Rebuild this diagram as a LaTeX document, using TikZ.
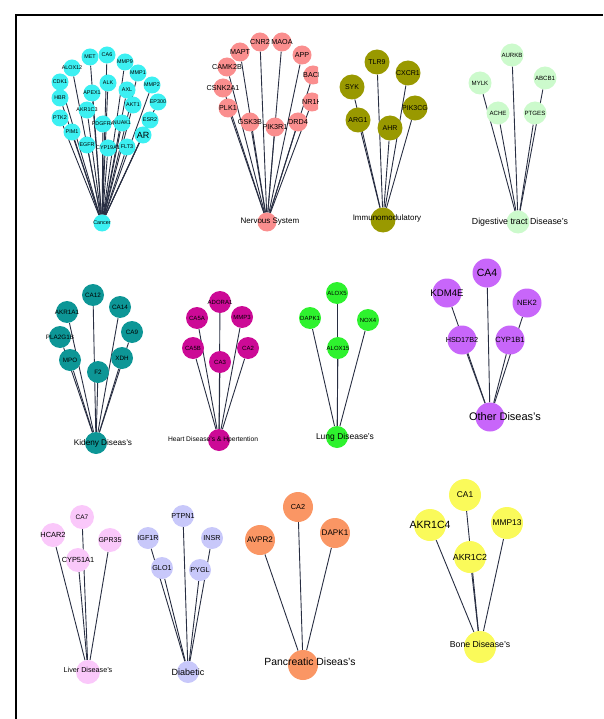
\documentclass[tikz,border=0pt]{standalone}
\usepackage{fontspec}
\setmainfont{Liberation Sans}
\usepackage{xcolor}
\usepackage{tikz}
\usetikzlibrary{backgrounds}
\definecolor{cancerc}{RGB}{60,240,242}
\definecolor{nervec}{RGB}{250,142,142}
\definecolor{immunc}{RGB}{153,153,0}
\definecolor{digestc}{RGB}{204,250,204}
\definecolor{kidneyc}{RGB}{13,150,150}
\definecolor{heartc}{RGB}{204,10,150}
\definecolor{lungc}{RGB}{46,242,46}
\definecolor{otherc}{RGB}{200,102,250}
\definecolor{liverc}{RGB}{250,200,250}
\definecolor{diabc}{RGB}{200,200,250}
\definecolor{pancc}{RGB}{250,150,100}
\definecolor{bonec}{RGB}{250,250,90}
\definecolor{linkc}{RGB}{40,46,66}
\newcommand{\fs}[1]{\fontsize{#1}{#1}\selectfont}

\begin{document}
\begin{tikzpicture}[x=1pt, y=-1pt,
  gene/.style={circle, inner sep=0pt, label={center:#1}}, gene/.default={},
  link/.style={draw=linkc, line width=0.9pt}]
\useasboundingbox (0,0) rectangle (603,719);
\draw[line width=1.5pt] (16,719) -- (16,15) -- (603,15);
%cancer
\begin{scope}[gene/.append style={fill=cancerc, minimum size=17}, every label/.append style={font=\fs{5.4}}]
\node[gene=MET] (met) at (90,57) {};
\node[gene=CA6] (ca6) at (107,55) {};
\node[gene=MMP9] (mmp9) at (125,62) {};
\node[gene=ALOX12] (alox12) at (72,68) {};
\node[gene=MMP1] (mmp1) at (138,73) {};
\node[gene=CDK1] (cdk1) at (60,82) {};
\node[gene=ALK] (alk) at (108,83) {};
\node[gene=AXL] (axl) at (127,90) {};
\node[gene=MMP2] (mmp2) at (152,85) {};
\node[gene=APEX1] (apex1) at (92,93) {};
\node[gene=HBR] (hbr) at (60,98) {};
\node[gene=EP300] (ep300) at (158,102) {};
\node[gene=AKT1] (akt1) at (133,105) {};
\node[gene=AKR1C3] (akr1c3) at (87,110) {};
\node[gene=PTK2] (ptk2) at (60,118) {};
\node[gene=ESR2] (esr2) at (150,120) {};
\node[gene=PDGFRA] (pdgfra) at (103,124) {};
\node[gene=NUAK1] (nuak1) at (122,123) {};
\node[gene={\fs{9}AR}] (ar) at (143,135) {};
\node[gene=PIM1] (pim1) at (72,132) {};
\node[gene=EGFR] (egfr) at (87,145) {};
\node[gene=FLT3] (flt3) at (127,147) {};
\node[gene=CYP19A1] (cyp19a1) at (108,148) {};
\node[gene=Cancer] (cancer) at (102,223) {};
\end{scope}
%nervous system
\begin{scope}[gene/.append style={fill=nervec, minimum size=19}, every label/.append style={font=\fs{7.2}}]
\node[gene=CNR2] (cnr2) at (260,42) {};
\node[gene=MAOA] (maoa) at (282,42) {};
\node[gene=MAPT] (mapt) at (240,52) {};
\node[gene=APP] (app) at (302,55) {};
\node[gene=CAMK2B] (camk2b) at (227,67) {};
\node[gene=CSNK2A1] (csnk2a1) at (223,88) {};
\node[gene=PLK1] (plk1) at (228,108) {};
\node[gene=GSK3B] (gsk3b) at (250,122) {};
\node[gene=PIK3R1] (pik3r1) at (275,127) {};
\node[gene=DRD4] (drd4) at (298,122) {};
\begin{scope}
\clip (290,30) rectangle (318,120);
\node[gene=BACE] (bace) at (313,75) {};
\node[gene=NR1H] (nr1h) at (312,102) {};
\end{scope}
\node[gene={\fs{8}\hspace*{6pt}Nervous System}] (nerve) at (267,222) {};
\end{scope}
%immunomodulatory
\begin{scope}[gene/.append style={fill=immunc, minimum size=25}, every label/.append style={font=\fs{7}}]
\node[gene=TLR9] (tlr9) at (377,62) {};
\node[gene=CXCR1] (cxcr1) at (408,73) {};
\node[gene=SYK] (syk) at (352,87) {};
\node[gene=PIK3CG] (pik3cg) at (415,108) {};
\node[gene=ARG1] (arg1) at (358,120) {};
\node[gene=AHR] (ahr) at (390,128) {};
\node[gene={\raisebox{4pt}{\fs{8}\hspace*{8pt}Immunomodulatory}}] (immun) at (383,220) {};
\end{scope}
%digestive
\begin{scope}[gene/.append style={fill=digestc, minimum size=23}, every label/.append style={font=\fs{6.1}}]
\node[gene=AURKB] (aurkb) at (512,55) {};
\node[gene=ABCB1] (abcb1) at (545,78) {};
\node[gene=MYLK] (mylk) at (480,83) {};
\node[gene=ACHE] (ache) at (498,113) {};
\node[gene=PTGES] (ptges) at (535,113) {};
\node[gene={\fs{8.8}\hspace*{4pt}Digestive tract Disease's}] (digest) at (518,222) {};
\end{scope}
%kidney
\begin{scope}[gene/.append style={fill=kidneyc, minimum size=22}, every label/.append style={font=\fs{6.3}}]
\node[gene=CA12] (ca12) at (93,295) {};
\node[gene=AKR1A1] (akr1a1) at (67,312) {};
\node[gene=CA14] (ca14) at (120,307) {};
\node[gene=CA9] (ca9) at (132,332) {};
\node[gene=PLA2G1B] (pla2g1b) at (60,337) {};
\node[gene=XDH] (xdh) at (122,358) {};
\node[gene=MPO] (mpo) at (70,360) {};
\node[gene=F2] (f2) at (98,372) {};
\node[gene={\fs{8.2}\hspace*{14pt}Kideny Diseas's}] (kidney) at (96,443) {};
\end{scope}
%heart
\begin{scope}[gene/.append style={fill=heartc, minimum size=22}, every label/.append style={font=\fs{6}}]
\node[gene=ADORA1] (adora1) at (220,302) {};
\node[gene=CA5A] (ca5a) at (197,318) {};
\node[gene=MMP3] (mmp3) at (242,317) {};
\node[gene=CA5B] (ca5b) at (193,348) {};
\node[gene=CA2] (ca2h) at (248,348) {};
\node[gene=CA3] (ca3) at (220,362) {};
\node[gene={\fs{6.7}Heart Disease's \& Hpertention\hspace*{12pt}}] (heart) at (219,440) {};
\end{scope}
%lung
\begin{scope}[gene/.append style={fill=lungc, minimum size=22}, every label/.append style={font=\fs{6}}]
\node[gene=ALOX5] (alox5) at (337,293) {};
\node[gene=DAPK1] (dapk1l) at (310,318) {};
\node[gene=NOX4] (nox4) at (368,320) {};
\node[gene=ALOX15] (alox15) at (338,348) {};
\node[gene={\fs{8.5}\hspace*{16pt}Lung Disease's}] (lung) at (337,437) {};
\end{scope}
%other
\begin{scope}[gene/.append style={fill=otherc, minimum size=29}, every label/.append style={font=\fs{7.6}}]
\node[gene={\fs{10.5}CA4}] (ca4) at (487,273) {};
\node[gene={\fs{9.6}KDM4E}] (kdm4e) at (447,293) {};
\node[gene=NEK2] (nek2) at (527,303) {};
\node[gene={\fs{7.3}HSD17B2}] (hsd17b2) at (462,340) {};
\node[gene=CYP1B1] (cyp1b1) at (510,340) {};
\node[gene={\fs{11}\hspace*{30pt}Other Diseas's}] (other) at (490,417) {};
\end{scope}
%liver
\begin{scope}[gene/.append style={fill=liverc, minimum size=24}, every label/.append style={font=\fs{7.4}}]
\node[gene={\fs{6.5}CA7}] (ca7) at (82,517) {};
\node[gene=HCAR2] (hcar2) at (53,535) {};
\node[gene={\fs{7}GPR35}] (gpr35) at (110,540) {};
\node[gene=CYP51A1] (cyp51a1) at (78,560) {};
\node[gene={\raisebox{4pt}{\fs{7.2}Liver Disease's}}] (liver) at (88,672) {};
\end{scope}
%diabetic
\begin{scope}[gene/.append style={fill=diabc, minimum size=22}, every label/.append style={font=\fs{7.2}}]
\node[gene=PTPN1] (ptpn1) at (183,516) {};
\node[gene=IGF1R] (igf1r) at (148,538) {};
\node[gene=INSR] (insr) at (212,538) {};
\node[gene=GLO1] (glo1) at (162,568) {};
\node[gene=PYGL] (pygl) at (200,570) {};
\node[gene={\fs{9}Diabetic}] (diab) at (188,672) {};
\end{scope}
%pancreatic
\begin{scope}[gene/.append style={fill=pancc, minimum size=30}, every label/.append style={font=\fs{8.1}}]
\node[gene={\fs{7.3}CA2}] (ca2p) at (298,507) {};
\node[gene=AVPR2] (avpr2) at (260,540) {};
\node[gene=DAPK1] (dapk1p) at (335,533) {};
\node[gene={\raisebox{6pt}{\fs{10.4}\hspace*{14pt}Pancreatic Diseas's}}] (panc) at (303,665) {};
\end{scope}
%bone
\begin{scope}[gene/.append style={fill=bonec, minimum size=32}, every label/.append style={font=\fs{8.4}}]
\node[gene=CA1] (ca1) at (465,495) {};
\node[gene={\fs{10.5}AKR1C4}] (akr1c4) at (430,525) {};
\node[gene={\fs{8.8}AKR1C2}] (akr1c2) at (470,557) {};
\node[gene=MMP13] (mmp13) at (507,523) {};
\node[gene={\raisebox{6pt}{\fs{8.7}Bone Disease's}}] (bone) at (480,647) {};
\end{scope}
\begin{pgfonlayer}{background}
\draw[link] (cancer) edge (met) edge (ca6) edge (mmp9) edge (alox12) edge (mmp1) edge (cdk1)
  edge (alk) edge (axl) edge (mmp2) edge (apex1) edge (hbr) edge (ep300) edge (akt1)
  edge (akr1c3) edge (ptk2) edge (esr2) edge (pdgfra) edge (nuak1) edge (ar) edge (pim1)
  edge (egfr) edge (flt3) edge (cyp19a1);
\draw[link] (nerve) edge (cnr2) edge (maoa) edge (mapt) edge (app) edge (camk2b) edge (csnk2a1)
  edge (plk1) edge (gsk3b) edge (pik3r1) edge (drd4) edge (bace) edge (nr1h);
\draw[link] (immun) edge (tlr9) edge (cxcr1) edge (syk) edge (pik3cg) edge (arg1) edge (ahr);
\draw[link] (digest) edge (aurkb) edge (abcb1) edge (mylk) edge (ache) edge (ptges);
\draw[link] (kidney) edge (ca12) edge (akr1a1) edge (ca14) edge (ca9) edge (pla2g1b) edge (xdh)
  edge (mpo) edge (f2);
\draw[link] (heart) edge (adora1) edge (ca5a) edge (mmp3) edge (ca5b) edge (ca2h) edge (ca3);
\draw[link] (lung) edge (alox5) edge (dapk1l) edge (nox4) edge (alox15);
\draw[link] (other) edge (ca4) edge (kdm4e) edge (nek2) edge (hsd17b2) edge (cyp1b1);
\draw[link] (liver) edge (ca7) edge (hcar2) edge (gpr35) edge (cyp51a1);
\draw[link] (diab) edge (ptpn1) edge (igf1r) edge (insr) edge (glo1) edge (pygl);
\draw[link] (panc) edge (ca2p) edge (avpr2) edge (dapk1p);
\draw[link] (bone) edge (ca1) edge (akr1c4) edge (mmp13) edge (akr1c2);
\end{pgfonlayer}
\end{tikzpicture}
\end{document}
